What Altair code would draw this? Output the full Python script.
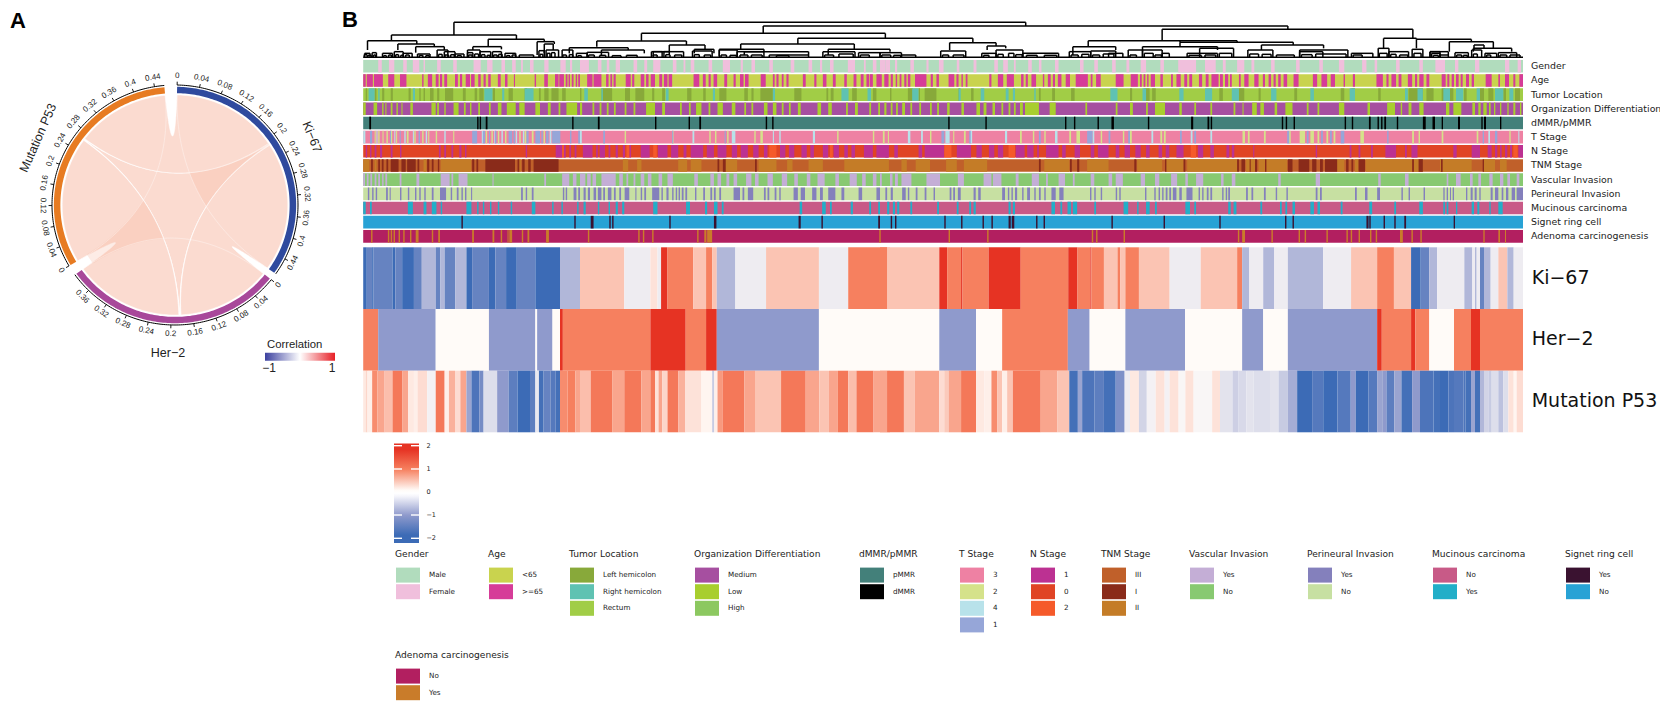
import math
import altair as alt
import pandas as pd

SANS = "Liberation Sans"
WIDE = "DejaVu Sans"

# sample windows along the heatmap's column axis: origin, read-off scale
WINDOWS = {"A": (330, 2.8), "B": (880, 2.8), "C": (1420, 3.0)}
def A(v): return WINDOWS["A"][0] + v / WINDOWS["A"][1]
def B(v): return WINDOWS["B"][0] + v / WINDOWS["B"][1]
def C(v): return WINDOWS["C"][0] + v / WINDOWS["C"][1]
CONV = {"A": A, "B": B, "C": C}

LEFT, RIGHT = 363.2, 1523.0

PALETTE = {
    "Gender|Male": "#b1dcbd", "Gender|Female": "#f0bfdc",
    "Age|<65": "#c9d34e", "Age|>=65": "#d63c98",
    "Tumor Location|Left hemicolon": "#88a93a", "Tumor Location|Right hemicolon": "#5fc2b2", "Tumor Location|Rectum": "#a1cd46",
    "Organization Differentiation|Medium": "#a64fa0", "Organization Differentiation|Low": "#a8ce2e", "Organization Differentiation|High": "#8cc860",
    "dMMR/pMMR|pMMR": "#43807a", "dMMR/pMMR|dMMR": "#000000",
    "T Stage|3": "#ee81a3", "T Stage|2": "#d5e28a", "T Stage|4": "#b8e2ea", "T Stage|1": "#96a6d8",
    "N Stage|1": "#bc3192", "N Stage|0": "#e04425", "N Stage|2": "#f55a2a",
    "TNM Stage|III": "#c0602a", "TNM Stage|I": "#8a2b1a", "TNM Stage|II": "#c47c27",
    "Vascular Invasion|Yes": "#c4aed6", "Vascular Invasion|No": "#88c971",
    "Perineural Invasion|Yes": "#8480bc", "Perineural Invasion|No": "#c7e0a2",
    "Mucinous carcinoma|No": "#c85a87", "Mucinous carcinoma|Yes": "#22aec8",
    "Signet ring cell|Yes": "#3a1230", "Signet ring cell|No": "#28a2d5",
    "Adenoma carcinogenesis|No": "#b21f60", "Adenoma carcinogenesis|Yes": "#c97c2a",
}

TRACK_ORDER = ["Gender", "Age", "Tumor Location", "Organization Differentiation", "dMMR/pMMR",
               "T Stage", "N Stage", "TNM Stage", "Vascular Invasion", "Perineural Invasion",
               "Mucinous carcinoma", "Signet ring cell", "Adenoma carcinogenesis"]
TRACK_BASE = ["Male", "<65", "Rectum", "Medium", "pMMR", "3", "0", "III", "No", "No", "No", "No", "No"]

# minority-class runs (start, end, start, end, ...) by track, category and window
gender_f_a = [135,145,165,180,205,215,232,250,262,266,300,310,345,355,402,422,440,455,480,490,510,520,535,540,560,570,600,612,645,660,672,678,700,725,750,760,775,782,800,812,850,860,880,888,905,925,960,970,990,995,1010,1020,1060,1070,1100,1120,1150,1156,1180,1190,1230,1240,1290,1300,1340,1350,1372,1378,1400,1410,1450,1470,1495,1500,1520,1530,1555,1568]
gender_f_b = [0,15,42,48,85,95,130,136,165,178,215,222,262,270,320,330,345,358,375,380,415,425,445,452,490,500,560,570,600,610,650,660,690,698,730,745,785,795,835,885,910,940,960,968,1000,1020,1040,1048,1095,1105,1165,1175,1230,1240,1285,1300,1350,1362,1385,1392,1445,1455,1510,1520,1555,1568]
gender_f_c = [60,75,105,115,165,178,255,268,293,303]

age_old_a = [93,100,103,120,123,148,163,180,196,214,258,262,274,286,296,304,308,314,320,328,350,358,364,370,380,392,395,405,415,422,430,436,443,450,470,478,490,497,515,518,573,577,600,610,630,640,642,655,660,665,668,672,677,682,688,692,695,700,720,735,738,760,773,780,785,790,794,800,828,842,846,852,870,880,885,892,898,910,922,930,935,945,948,958,1018,1034,1044,1052,1060,1066,1074,1084,1104,1112,1130,1136,1148,1158,1162,1172,1206,1220,1240,1245,1250,1256,1265,1270,1278,1284,1324,1332,1356,1362,1380,1390,1408,1416,1440,1447,1466,1474,1486,1494,1502,1510,1512,1520,1530,1540,1552,1560]
age_old_b = [0,5,18,24,30,36,44,48,55,60,68,74,78,85,98,130,142,148,158,165,192,208,214,220,228,232,240,245,306,312,330,345,355,375,395,402,408,414,424,437,456,460,470,478,484,490,498,508,520,532,548,582,590,595,605,618,660,682,702,722,728,733,738,743,748,752,758,770,785,792,815,820,830,842,852,860,866,874,893,902,912,920,928,948,952,960,966,975,980,985,1005,1010,1020,1032,1048,1060,1072,1078,1088,1095,1102,1108,1115,1122,1130,1140,1158,1172,1212,1224,1236,1252,1262,1274,1298,1302,1324,1330,1390,1408,1418,1424,1432,1445,1452,1460,1478,1490,1498,1504,1510,1522,1530,1538]
age_old_c = [65,77,82,88,95,102,108,116,122,128,138,147,155,162,197,215,235,240,255,267,280,286,298,309]

tumor_left_a = [100,104,125,130,146,152,170,176,220,226,250,254,262,266,280,290,300,306,322,345,372,380,405,412,418,430,455,462,500,512,545,552,585,590,600,612,620,640,650,660,700,704,760,790,826,840,855,880,902,908,930,938,1000,1012,1045,1052,1090,1110,1160,1170,1180,1186,1205,1240,1300,1320,1390,1395,1402,1410,1462,1475,1520,1530]
tumor_right_a = [108,125,135,139,232,238,432,455,482,488,545,570,712,722,760,764,940,948,1072,1078,1240,1246,1432,1452,1505,1515]
tumor_left_b = [28,32,78,92,108,112,125,158,220,224,255,262,445,450,482,490,535,545,700,706,740,755,762,772,950,960,1005,1020,1060,1066,1160,1168,1290,1300,1320,1330,1395,1402,1480,1520,1530,1550]
tumor_right_b = [90,108,220,226,282,292,352,360,372,378,432,436,645,665,735,745,838,850,910,930,985,1005,1095,1110,1205,1215,1315,1330,1470,1478,1505,1520]
tumor_left_c = [65,75,90,100,132,140,180,192,205,220,250,258,285,300]
tumor_right_c = [70,90,108,130,170,180,225,250,268,280]

org_low_a = [93,100,122,132,146,150,155,158,170,175,186,190,200,203,225,232,284,296,300,305,320,324,346,360,375,380,392,396,415,420,445,450,470,480,495,520,530,545,575,588,610,618,640,645,662,692,700,706,735,740,755,760,775,780,795,800,825,830,850,855,885,910,930,938,980,985,1005,1010,1025,1040,1060,1065,1085,1100,1125,1135,1160,1165,1180,1185,1215,1225,1240,1250,1265,1270,1285,1290,1310,1318,1365,1375,1395,1405,1445,1450,1470,1478,1510,1515,1535,1540]
org_low_b = [12,18,30,35,45,50,62,70,85,90,110,115,140,145,160,165,188,195,228,235,270,280,290,298,315,322,340,345,360,365,375,380,392,400,406,445,475,492,575,580,660,665,700,708,745,750,770,798,838,845,880,885,925,930,990,995,1015,1018,1042,1055,1065,1075,1105,1112,1135,1155,1195,1200,1225,1230,1285,1300,1365,1372,1420,1442,1458,1462,1480,1488,1510,1522]
org_low_c = [78,88,100,124,157,165,175,182,190,200,207,212,222,226,240,244,262,266,280,286,300,304]

dmmr_a = [110,115,412,416,419,423,436,441,678,682,750,755,910,914,1004,1008,1034,1039,1220,1224,1238,1242]
dmmr_b = [191,195,295,299,518,522,543,547,609,613,648,655,750,754,871,877,917,922,926,930,1125,1129,1136,1140,1158,1162,1301,1305,1321,1325,1369,1374,1393,1397,1403,1407,1412,1417,1447,1451,1520,1528,1547,1554]
dmmr_c = [65,69,114,120,184,188,192,198,240,244]

t2_a = [125,128,135,139,147,150,158,162,170,174,185,188,215,220,236,240,258,262,275,278,296,300,345,348,436,440,452,456,470,474,490,494,530,534,545,550,565,570,598,602,825,829,958,962,1062,1066,1078,1082,1112,1116,1188,1192,1205,1212,1420,1424,1520,1524]
t4_a = [93,99,130,133,180,183,208,212,232,235,268,272,320,324,425,430,460,464,480,484,520,524,540,544,580,585,615,620,700,705,1015,1020,1125,1135,1352,1358,1240,1243,1258,1262]
t1_a = [112,118,168,171,195,198,248,252,398,412,428,434,445,448,462,466,500,510,514,518,550,556,575,588,592,596,605,612,622,645,672,676,695,700,765,770,958,961,1105,1108]
t2_b = [8,13,22,25,140,144,205,208,235,240,392,397,428,432,460,464,530,535,550,560,618,622,680,684,700,705,785,790,795,800,1015,1022,1030,1035,1075,1080,1145,1150,1175,1190,1205,1215,1225,1230,1250,1255,1270,1275,1345,1355,1490,1495,1508,1512]
t4_b = [78,85,115,120,183,195,252,258,350,356,490,497,595,600,760,765,870,875,925,930]
t1_b = [172,180,250,254,445,450,580,595,640,645,695,700,840,845,880,885,1140,1146,1195,1200,1235,1240,1260,1265,1290,1300,1420,1424]
t2_c = [65,70,170,175,268,272]
t4_c = [205,210,295,298]
t1_c = [188,192,225,232]

n1_a = [100,104,112,116,125,130,140,146,170,175,196,200,305,310,320,325,340,345,362,368,378,382,548,552,632,650,655,660,670,675,685,690,708,735,745,750,755,770,780,785,800,806,820,826,838,843,870,895,918,945,955,975,990,998,1010,1045,1055,1075,1085,1110,1125,1140,1150,1170,1185,1200,1215,1225,1260,1275,1285,1300,1320,1335,1345,1355,1380,1395,1410,1425,1440,1450,1460,1470,1495,1520,1530,1540,1555,1562]
n2_a = [650,655,830,838,905,915,1230,1250,1400,1408]
n1_b = [0,25,40,50,108,118,125,180,215,255,270,285,305,320,330,345,380,405,412,430,440,445,465,500,510,520,545,560,590,600,610,640,660,670,685,700,715,730,745,755,780,790,800,810,830,850,890,905,925,935,970,978,985,992,1045,1048,1220,1224,1315,1320,1340,1345,1375,1380,1415,1445,1470,1475,1488,1505]
n2_b = [180,200,360,378,870,885]
n1_c = [100,110,155,180,203,215,225,232,240,245,255,262,270,276,295,309]
n2_c = [280,293]

tnm2_a = [93,110,125,130,262,270,310,395,530,534,820,835,860,872,975,1000,1010,1040,1105,1140,1200,1250,1280,1295,1340,1380,1440,1560]
tnm1_a = [115,120,135,140,145,150,158,163,170,192,200,212,216,240,245,250,272,278,285,290,302,306,398,404,410,415,435,518,525,530,538,545,555,562,570,640,1085,1090,1100,1108,1190,1195]
tnm2_b = [0,25,60,75,100,140,185,215,235,300,460,530,580,640,720,790,800,850,860,1000,1025,1050,1060,1140,1280,1300,1330,1340,1360,1520]
tnm1_b = [445,450,532,537,552,558,712,718,798,802,850,855,1000,1005,1012,1022,1035,1038,1050,1056,1078,1082,1142,1155,1172,1202,1210,1222,1232,1240,1246,1280,1305,1312,1320,1325,1340,1358,1490,1495,1508,1520]
tnm2_c = [60,155,190,225,240,260]
tnm1_c = [63,68,188,192]

vasc_a = [93,98,103,108,113,118,125,130,135,140,146,150,155,160,195,200,242,250,310,335,340,345,360,385,455,458,600,605,650,670,680,690,700,715,720,730,735,745,760,800,810,820,830,835,850,855,870,880,890,900,920,930,945,960,1020,1030,1065,1075,1085,1095,1110,1118,1130,1140,1165,1180,1190,1200,1225,1240,1265,1280,1300,1310,1335,1345,1365,1385,1415,1425,1455,1475,1490,1500,1520,1530]
vasc_b = [0,5,28,35,42,50,60,88,130,168,218,235,290,312,316,340,380,388,425,445,465,470,500,518,540,545,590,600,640,650,660,680,730,742,770,782,815,832,855,862,885,905,955,962,985,995,1115,1122,1220,1232,1395,1402,1470,1480]
vasc_c = [80,85,108,122,150,158,175,183,208,218,240,250,262,270,290,298]

peri_a = [106,110,118,122,128,132,157,162,167,170,196,200,218,222,238,242,250,254,264,268,285,290,308,325,338,342,355,360,368,372,378,382,395,398,535,540,548,552,565,570,652,656,660,664,682,690,695,700,710,716,722,728,738,745,750,760,765,770,778,788,795,800,810,815,825,838,855,858,870,874,880,885,902,922,928,932,942,948,958,962,968,972,976,980,985,990,995,1000,1022,1026,1045,1050,1065,1070,1075,1080,1090,1095,1130,1148,1155,1160,1170,1185,1215,1220,1225,1230,1245,1250,1258,1262,1298,1310,1318,1330,1350,1362,1372,1380,1395,1415,1432,1440,1480,1490,1530,1540]
peri_b = [15,20,30,36,62,72,78,82,100,105,125,130,150,154,195,200,205,210,218,226,262,268,275,282,342,350,358,362,368,372,378,384,398,402,412,420,432,436,445,450,460,464,480,492,502,514,588,592,600,604,618,622,660,664,670,674,742,746,768,772,780,784,790,794,800,805,810,815,820,830,838,845,858,875,892,896,902,906,915,920,925,930,958,962,968,972,975,980,1025,1030,1040,1045,1075,1080,1108,1112,1138,1142,1220,1225,1232,1237,1330,1335,1358,1365,1392,1400,1460,1464,1480,1484,1522,1526]
peri_c = [70,74,80,84,90,93,98,102,138,142,152,158,164,170,178,182,212,218,225,235,245,250,258,265,275,285,290,309]

muc_a = [93,100,112,117,218,232,262,270,285,298,310,314,382,396,412,416,428,432,448,452,470,474,506,510,565,575,622,626,648,652,692,696,710,716,750,754,780,784,800,806,818,824,905,917,997,1008,1050,1056,1075,1085,1097,1102,1315,1322,1378,1388,1400,1405,1458,1464,1510,1515,1535,1540]
muc_b = [20,26,36,42,48,54,85,90,160,165,215,220,250,255,262,268,360,366,372,378,480,490,505,510,525,535,540,552,600,605,682,695,720,724,745,755,770,775,855,868,880,885,975,982,990,998,1065,1070,1120,1125,1135,1140,1155,1162,1205,1215,1225,1232,1290,1295,1370,1378,1440,1445,1510,1520]
muc_c = [70,75,80,85,108,112,155,162,172,178,208,212,235,248]

signet_a = [368,372,684,688,730,738,782,786,790,794,950,954,1075,1082,1312,1318,1376,1380,1535,1540]
signet_b = [30,34,42,46,180,184,227,231,287,291,312,316,360,366,369,376,437,441,458,462,648,652,794,798,950,954,1134,1138,1155,1159,1362,1368,1370,1374,1410,1414,1440,1444,1468,1473]
signet_c = [101,105]

adeno_a = [115,119,162,166,170,174,178,182,192,196,205,209,224,228,240,248,285,289,303,308,398,403,455,460,478,482,497,500,502,510,537,541,553,558,605,613,722,726,863,867,876,880,902,906,1028,1032,1048,1054,1056,1070,1538,1542]
adeno_b = [192,196,300,304,593,597,605,609,682,686,1002,1006,1014,1022,1096,1100,1172,1176,1189,1193,1250,1254,1306,1310,1318,1322,1340,1344,1372,1376,1388,1392,1456,1464,1488,1492,1513,1517]
adeno_c = [190,194,235,240,255,258]

RUNS = [
    ("Gender", "Female", "A", gender_f_a), ("Gender", "Female", "B", gender_f_b), ("Gender", "Female", "C", gender_f_c),
    ("Age", ">=65", "A", age_old_a), ("Age", ">=65", "B", age_old_b), ("Age", ">=65", "C", age_old_c),
    ("Tumor Location", "Left hemicolon", "A", tumor_left_a), ("Tumor Location", "Right hemicolon", "A", tumor_right_a),
    ("Tumor Location", "Left hemicolon", "B", tumor_left_b), ("Tumor Location", "Right hemicolon", "B", tumor_right_b),
    ("Tumor Location", "Left hemicolon", "C", tumor_left_c), ("Tumor Location", "Right hemicolon", "C", tumor_right_c),
    ("Organization Differentiation", "Low", "A", org_low_a), ("Organization Differentiation", "Low", "B", org_low_b), ("Organization Differentiation", "Low", "C", org_low_c),
    ("dMMR/pMMR", "dMMR", "A", dmmr_a), ("dMMR/pMMR", "dMMR", "B", dmmr_b), ("dMMR/pMMR", "dMMR", "C", dmmr_c),
    ("T Stage", "2", "A", t2_a), ("T Stage", "4", "A", t4_a), ("T Stage", "1", "A", t1_a),
    ("T Stage", "2", "B", t2_b), ("T Stage", "4", "B", t4_b), ("T Stage", "1", "B", t1_b),
    ("T Stage", "2", "C", t2_c), ("T Stage", "4", "C", t4_c), ("T Stage", "1", "C", t1_c),
    ("N Stage", "1", "A", n1_a), ("N Stage", "2", "A", n2_a), ("N Stage", "1", "B", n1_b), ("N Stage", "2", "B", n2_b), ("N Stage", "1", "C", n1_c), ("N Stage", "2", "C", n2_c),
    ("TNM Stage", "II", "A", tnm2_a), ("TNM Stage", "I", "A", tnm1_a), ("TNM Stage", "II", "B", tnm2_b), ("TNM Stage", "I", "B", tnm1_b), ("TNM Stage", "II", "C", tnm2_c), ("TNM Stage", "I", "C", tnm1_c),
    ("Vascular Invasion", "Yes", "A", vasc_a), ("Vascular Invasion", "Yes", "B", vasc_b), ("Vascular Invasion", "Yes", "C", vasc_c),
    ("Perineural Invasion", "Yes", "A", peri_a), ("Perineural Invasion", "Yes", "B", peri_b), ("Perineural Invasion", "Yes", "C", peri_c),
    ("Mucinous carcinoma", "Yes", "A", muc_a), ("Mucinous carcinoma", "Yes", "B", muc_b), ("Mucinous carcinoma", "Yes", "C", muc_c),
    ("Signet ring cell", "Yes", "A", signet_a), ("Signet ring cell", "Yes", "B", signet_b), ("Signet ring cell", "Yes", "C", signet_c),
    ("Adenoma carcinogenesis", "Yes", "A", adeno_a), ("Adenoma carcinogenesis", "Yes", "B", adeno_b), ("Adenoma carcinogenesis", "Yes", "C", adeno_c),
]

# heatmap: boundaries, then the z-score between each pair of boundaries
ki_edges_a = [93,103,118,122,175,183,202,235,257,296,309,321,351,382,398,445,463,493,523,575,644,700,824,897,917,927,945,1017,1053,1070,1083,1135,1221,1369,1451,1560,1568]
ki_z_a = [-2,-1.5,-2,-1.5,-2,-1.5,-2,-1.5,-.7,-1.5,-.7,-1.5,-.7,-2,-1.5,-2,-1.5,-2,-1.5,-2,-.7,.45,-.15,.2,-.15,2,1,.45,1,.45,-.7,-.15,.45,-.15,1,.45]
ki_edges_b = [0,20,166,188,227,231,304,394,527,553,589,592,627,665,673,687,725,811,898,1000,1014,1034,1073,1104,1142,1241,1319,1392,1439,1487,1514,1538,1560,1568]
ki_z_b = [1,.45,2,1,2,1,2,1,2,1,2,1,.45,1,.45,1,.45,-.15,.45,1,-.7,-.15,-.7,-.15,-.7,-.15,.45,1,.45,-2,-1.5,-.7,-.15]
ki_edges_c = [60,133,157,165,170,180,192,212,235,262,281,309]
ki_z_c = [-.15,-.7,-.15,-.7,-.15,-1.5,-.7,-.15,.45,-.7,-.15]

her_edges_a = [93,135,296,445,575,580,623,644,652,897,996,1053,1083,1369,1568]
her_z_a = [1,-1,0,-1,0,-1,0,2,1,2,1,2,-1,0]
her_edges_b = [0,166,269,342,526,587,687,854,1014,1073,1142,1392,1405,1487,1499,1538,1568]
her_z_b = [0,-1,0,1,-1,0,-1,0,-1,0,-1,2,1,2,1,0]
her_edges_c = [60,102,153,180,309]
her_z_c = [0,1,2,1]

p53_edges_a = [93,100,105,118,133,153,175,203,219,235,245,272,296,321,333,350,365,382,396,418,430,468,500,525,560,575,585,598,618,632,644,665,687,700,730,790,824,872,897,910,920,930,945,975,995,1040,1070,1076,1085,1100,1160,1190,1263,1332,1370,1397,1422,1451,1474,1522,1568]
p53_z_a = [.15,.3,.1,.9,.7,.5,1.1,.7,.15,.1,.25,-.1,1.1,.1,.6,.25,.7,-.9,-1.8,-1.3,-.3,-1,-1.6,-2,-1.6,-.2,-1.9,-1.5,-1.7,-1.9,.9,1,.7,.5,1.1,.7,1.1,.7,1.1,.2,.7,.3,1.1,.6,.2,.05,-.5,.1,.8,1.1,.7,.45,1.1,.7,.45,.7,1.1,.5,1.1,.7]
p53_edges_b = [0,20,67,97,166,180,192,227,269,292,312,328,342,356,372,450,497,530,554,566,600,627,660,685,700,725,747,772,797,811,836,855,878,930,952,987,1004,1026,1046,1092,1116,1142,1168,1210,1241,1281,1318,1332,1368,1392,1408,1418,1440,1460,1490,1512,1550,1568]
p53_z_b = [.7,1.1,.45,.7,.25,.4,.7,1.1,.15,.1,.9,.45,.1,.45,1.1,.7,.45,-1.9,-.9,-1.8,-1.6,-1.9,-1.2,-.15,.15,-.4,-.1,.2,-.1,.2,-.05,.2,-.05,.2,-.25,-.45,-.35,-.25,-.3,-.25,-.5,-.8,-2,-1.7,-2,-1.7,-1,-2,-1.7,-.9,-1,-1.6,-.9,-1.9,-1,-1.8,-1.9]
p53_edges_c = [60,85,102,130,137,153,165,180,192,205,215,235,250,265,281,290,309]
p53_z_c = [-2,-1.8,-1.7,-1.8,-1.9,-.9,-1.9,-.7,-.4,-.5,-.3,-.6,-.3,.2,.05,.25]

HEAT_ROWS = [("Ki−67", 247.3, 309.0, [("A", ki_edges_a, ki_z_a), ("B", ki_edges_b, ki_z_b), ("C", ki_edges_c, ki_z_c)]),
             ("Her−2", 309.0, 370.7, [("A", her_edges_a, her_z_a), ("B", her_edges_b, her_z_b), ("C", her_edges_c, her_z_c)]),
             ("Mutation P53", 370.7, 432.3, [("A", p53_edges_a, p53_z_a), ("B", p53_edges_b, p53_z_b), ("C", p53_edges_c, p53_z_c)])]
HEAT_DOMAIN = [-2, -1, 0, 1, 2]
HEAT_RANGE = ["#3c6bb6", "#8f9acc", "#fffbf8", "#f6805f", "#e63323"]

# dendrogram clades: left, right, height, left child height, right child height
DENDRO = [
    (A(347), B(408), 67, 105, 78), (A(172), A(522), 105, 122, 118), (A(105), A(243), 122, 150, 132),
    (A(190), A(292), 132, 150, 140), (A(240), A(320), 140, 158, 150), (A(443), A(600), 118, 140, 125),
    (A(400), A(480), 140, 150, 148), (A(580), A(628), 125, 165, 132), (A(600), A(625), 132, 160, 150),
    (A(1213), B(1142), 78, 100, 88), (A(872), B(15), 100, 123, 115), (A(747), A(998), 123, 140, 135),
    (A(670), A(835), 143, 160, 150), (A(760), A(880), 150, 165, 160), (A(950), A(1050), 135, 155, 148),
    (A(905), A(950), 155, 168, 162), (A(1020), A(1075), 148, 160, 160), (A(1310), B(260), 115, 132, 128),
    (A(1150), A(1468), 132, 148, 148), (A(1090), A(1215), 148, 168, 155), (A(1160), A(1340), 155, 165, 165),
    (A(1395), A(1568), 148, 165, 155), (B(790), B(1492), 88, 122, 115), (B(583), B(840), 122, 140, 122),
    (B(540), B(660), 140, 165, 150), (B(840), B(1000), 122, 127, 127), (B(735), B(945), 140, 150, 150),
    (B(840), B(1157), 127, 140, 135), (B(1068), B(1242), 135, 150, 145), (B(1410), B(1502), 115, 145, 118),
    (B(195), B(325), 128, 150, 138), (B(300), B(352), 138, 150, 145), (B(1502), C(154), 118, 145, 125),
    (C(88), C(220), 125, 155, 145), (C(162), C(192), 135, 150, 145), (C(160), C(275), 145, 155, 155),
    (C(30), C(85), 155, 170, 165),
]
LEAF_CLADES = [
    ("A", 97, 112, 160), ("A", 118, 130, 158), ("A", 147, 175, 160), ("A", 180, 205, 155), ("A", 205, 230, 160),
    ("A", 245, 280, 162), ("A", 300, 330, 150), ("A", 320, 350, 155), ("A", 350, 375, 162), ("A", 385, 420, 150),
    ("A", 385, 400, 158), ("A", 420, 450, 155), ("A", 455, 480, 155), ("A", 490, 520, 160), ("A", 530, 570, 165),
    ("A", 585, 600, 152), ("A", 605, 640, 150), ("A", 650, 680, 150), ("A", 690, 720, 160), ("A", 720, 780, 157),
    ("A", 900, 930, 155), ("A", 935, 990, 155), ("A", 1015, 1070, 153), ("A", 1090, 1140, 150), ("A", 1140, 1215, 155),
    ("A", 1230, 1340, 165), ("A", 1380, 1470, 155), ("A", 1480, 1540, 158),
    ("B", 0, 60, 158), ("B", 60, 100, 165), ("B", 170, 240, 153), ("B", 285, 325, 160), ("B", 325, 400, 150),
    ("B", 400, 500, 160), ("B", 530, 590, 155), ("B", 590, 660, 153), ("B", 640, 680, 160), ("B", 695, 735, 150),
    ("B", 735, 790, 150), ("B", 790, 810, 160), ("B", 860, 945, 160), ("B", 895, 990, 145), ("B", 1030, 1100, 150),
    ("B", 1175, 1310, 150), ("B", 1175, 1240, 155), ("B", 1320, 1380, 160), ("B", 1395, 1425, 145), ("B", 1425, 1480, 155),
    ("B", 1490, 1520, 148), ("B", 1540, 1568, 155),
    ("C", 35, 60, 160), ("C", 60, 85, 165), ("C", 105, 145, 158), ("C", 155, 185, 150), ("C", 195, 230, 160),
    ("C", 235, 290, 158), ("C", 270, 300, 165),
    # finest clades just above the leaves
    ("A", 96, 104, 164), ("A", 106, 116, 166), ("A", 122, 128, 165), ("A", 150, 158, 167), ("A", 164, 172, 165),
    ("A", 184, 192, 164), ("A", 198, 206, 166), ("A", 212, 222, 165), ("A", 250, 260, 166), ("A", 268, 278, 167),
    ("A", 304, 314, 163), ("A", 322, 332, 165), ("A", 338, 348, 164), ("A", 356, 368, 167), ("A", 388, 398, 165),
    ("A", 405, 416, 162), ("A", 424, 434, 164), ("A", 440, 448, 166), ("A", 458, 468, 165), ("A", 472, 482, 163),
    ("A", 494, 504, 167), ("A", 510, 520, 165), ("A", 588, 596, 163), ("A", 608, 616, 160), ("A", 620, 630, 158),
    ("A", 652, 662, 165), ("A", 670, 680, 164), ("A", 694, 704, 167), ("A", 724, 740, 165), ("A", 755, 772, 166),
    ("A", 790, 815, 167), ("A", 830, 860, 166), ("A", 905, 916, 165), ("A", 940, 952, 164), ("A", 965, 985, 165),
    ("A", 1020, 1034, 164), ("A", 1048, 1066, 165), ("A", 1095, 1110, 165), ("A", 1120, 1138, 166), ("A", 1148, 1170, 165),
    ("A", 1180, 1210, 165), ("A", 1250, 1285, 167), ("A", 1385, 1410, 165), ("A", 1425, 1465, 162), ("A", 1485, 1510, 165),
    ("B", 5, 30, 165), ("B", 38, 58, 166), ("B", 175, 192, 165), ("B", 205, 235, 165), ("B", 290, 305, 166),
    ("B", 330, 345, 163), ("B", 360, 375, 160), ("B", 380, 398, 164), ("B", 410, 440, 166), ("B", 460, 495, 166),
    ("B", 535, 555, 165), ("B", 565, 585, 163), ("B", 595, 615, 165), ("B", 625, 655, 162), ("B", 700, 718, 165),
    ("B", 740, 765, 160), ("B", 770, 788, 165), ("B", 865, 900, 166), ("B", 910, 940, 165), ("B", 950, 985, 160),
    ("B", 1035, 1060, 162), ("B", 1070, 1095, 163), ("B", 1110, 1160, 165), ("B", 1180, 1210, 164), ("B", 1220, 1305, 162),
    ("B", 1325, 1350, 165), ("B", 1398, 1420, 160), ("B", 1430, 1445, 163), ("B", 1455, 1478, 165), ("B", 1495, 1515, 160),
    ("C", 40, 55, 166), ("C", 110, 125, 165), ("C", 130, 142, 166), ("C", 160, 172, 162), ("C", 200, 212, 165), ("C", 240, 260, 165),
]
DENDRO_BASE = 172

# circular correlation plot
CX, CY, RX, RY = 175.0, 205.0, 123.0, 120.0
SECTORS = [("Ki−67", 1.0, 125.0, 263.0, 12, "#2f4a9e"),
           ("Her−2", 128.5, 234.5, 267.0, 10, "#a8489a"),
           ("Mutation P53", 239.5, 355.0, 252.0, 12, "#e77b22")]
TICK_STEP = 0.04
RIBBONS = [(1.0, 56.0, 307.0, 355.0), (57.0, 125.0, 128.5, 177.0), (178.0, 234.5, 239.5, 306.0)]
# links that run behind the ribbons: they cross the centre
CENTRE_CURVES = [(56.5, 177.5), (177.5, 306.5), (306.5, 56.5)]
THIN_LINKS = [(1.0, 125.0), (128.5, 234.5), (239.5, 355.0), (306.0, 178.0), (57.0, 177.0)]
CIRCLE_NAMES = [("Ki−67", 312, 137, 68), ("Mutation P53", 38, 138, -66), ("Her−2", 168, 353, 0)]

LEGENDS = [
    ("Gender", 395, 554, ["Male", "Female"]), ("Age", 488, 554, ["<65", ">=65"]),
    ("Tumor Location", 569, 554, ["Left hemicolon", "Right hemicolon", "Rectum"]),
    ("Organization Differentiation", 694, 554, ["Medium", "Low", "High"]),
    ("dMMR/pMMR", 859, 554, ["pMMR", "dMMR"]), ("T Stage", 959, 554, ["3", "2", "4", "1"]),
    ("N Stage", 1030, 554, ["1", "0", "2"]), ("TNM Stage", 1101, 554, ["III", "I", "II"]),
    ("Vascular Invasion", 1189, 554, ["Yes", "No"]), ("Perineural Invasion", 1307, 554, ["Yes", "No"]),
    ("Mucinous carcinoma", 1432, 554, ["No", "Yes"]), ("Signet ring cell", 1565, 554, ["Yes", "No"]),
    ("Adenoma carcinogenesis", 395, 655, ["No", "Yes"]),
]
HEAT_TICKS = [2, 1, 0, -1, -2]
HEAT_STOPS = [(0.0, "#e63323"), (0.06, "#e63323"), (0.26, "#f6805f"), (0.47, "#fffbf8"), (0.5, "#ffffff"), (0.53, "#f5f5fb"), (0.72, "#8f9acc"), (0.92, "#3c6bb6"), (1.0, "#3c6bb6")]
CORR_STOPS = [(0.0, "#3b409f"), (0.5, "#ffffff"), (1.0, "#e71f26")]

# ------------- scales
X_DOM, Y_DOM = [8, 1660], [8, 703]
def xs(field="x"): return alt.X(f"{field}:Q", scale=alt.Scale(domain=X_DOM, nice=False, zero=False), axis=None)
def ys(field="y"): return alt.Y(f"{field}:Q", scale=alt.Scale(domain=Y_DOM, reverse=True, nice=False, zero=False), axis=None)

layers = []

# ------------- annotation tracks
TOP0, PITCH, TRACK_H = 60.0, 14.17, 12.6
track_rows = []
for i, (name, base) in enumerate(zip(TRACK_ORDER, TRACK_BASE)):
    y0 = TOP0 + i * PITCH
    track_rows.append(dict(x=LEFT, x2=RIGHT, y=y0, y2=y0 + TRACK_H, key=f"{name}|{base}", o=0))
for name, cat, win, vals in RUNS:
    i = TRACK_ORDER.index(name)
    y0 = TOP0 + i * PITCH
    f = CONV[win]
    for s, e in zip(vals[::2], vals[1::2]):
        track_rows.append(dict(x=max(LEFT, f(s)), x2=min(RIGHT, f(e)), y=y0, y2=y0 + TRACK_H, key=f"{name}|{cat}", o=1))
leg_rows = []
legend_text = []
for title, lx, ly, cats in LEGENDS:
    legend_text.append(dict(x=lx, y=ly, t=title))
    for j, c in enumerate(cats):
        top = ly + 13.6 + j * 16.6
        leg_rows.append(dict(x=lx + 1, x2=lx + 25, y=top, y2=top + 15, key=f"{title}|{c}", o=2))
        legend_text.append(dict(x=lx + 34, y=top + 7.5, t=c, small=1))
keys = list(PALETTE)
color_cat = alt.Color("key:N", scale=alt.Scale(domain=keys, range=[PALETTE[k] for k in keys]), legend=None)
layers.append(alt.Chart(pd.DataFrame(track_rows + leg_rows)).mark_rect(strokeWidth=0).encode(
    x=xs(), x2="x2:Q", y=ys(), y2="y2:Q", color=color_cat, order=alt.Order("o:Q")))

# ------------- heatmap
heat_rows = []
for _, top, bot, parts in HEAT_ROWS:
    for win, edges, z in parts:
        f = CONV[win]
        for k, v in enumerate(z):
            heat_rows.append(dict(x=f(edges[k]), x2=min(RIGHT, f(edges[k + 1])), y=top, y2=bot, z=v))
layers.append(alt.Chart(pd.DataFrame(heat_rows)).mark_rect(strokeWidth=0).encode(
    x=xs(), x2="x2:Q", y=ys(), y2="y2:Q",
    color=alt.Color("z:Q", scale=alt.Scale(domain=HEAT_DOMAIN, range=HEAT_RANGE, clamp=True, interpolate="rgb"), legend=None)))

# ------------- dendrogram
den = []
for l, r, h, hl, hr in DENDRO:
    den += [dict(x=l, x2=r, y=h / 3, y2=h / 3), dict(x=l, x2=l, y=h / 3, y2=hl / 3), dict(x=r, x2=r, y=h / 3, y2=hr / 3)]
for win, a, b, h in LEAF_CLADES:
    l, r = CONV[win](a), CONV[win](b)
    den += [dict(x=l, x2=r, y=h / 3, y2=h / 3), dict(x=l, x2=l, y=h / 3, y2=DENDRO_BASE / 3), dict(x=r, x2=r, y=h / 3, y2=DENDRO_BASE / 3)]
den.append(dict(x=LEFT, x2=RIGHT, y=DENDRO_BASE / 3, y2=DENDRO_BASE / 3))
layers.append(alt.Chart(pd.DataFrame(den)).mark_rule(color="#000000", strokeWidth=1.5).encode(
    x=xs(), x2="x2:Q", y=ys(), y2="y2:Q"))

# ------------- circular plot
def polar(theta, frac):
    a = math.radians(theta)
    return CX + RX * frac * math.sin(a), CY - RY * frac * math.cos(a)

def arc_pts(t0, t1, frac):
    n = max(2, int(abs(t1 - t0)) + 1)
    return [polar(t0 + (t1 - t0) * k / (n - 1), frac) for k in range(n)]

def bez(t0, t1, frac):
    p0, p2 = polar(t0, frac), polar(t1, frac)
    delta = abs(t1 - t0)
    delta = min(delta, 360 - delta)
    c = 0.26 * max(0.0, 1 - delta / 60)
    mid = math.radians((t0 + t1) / 2 + (180 if abs(t1 - t0) > 180 else 0))
    p1 = (CX + RX * c * math.sin(mid), CY - RY * c * math.cos(mid))
    pts = []
    for k in range(0, 61):
        u = k / 60
        pts.append(((1 - u) ** 2 * p0[0] + 2 * u * (1 - u) * p1[0] + u * u * p2[0],
                    (1 - u) ** 2 * p0[1] + 2 * u * (1 - u) * p1[1] + u * u * p2[1]))
    return pts

def crossing(p, q):
    best, bi, bj = 1e9, 0, 0
    for i, a in enumerate(p):
        for j, b in enumerate(q):
            d = (a[0] - b[0]) ** 2 + (a[1] - b[1]) ** 2
            if d < best:
                best, bi, bj = d, i, j
    return bi, bj

def piece(p, i, j):
    return p[i:j + 1] if i <= j else p[j:i + 1][::-1]

def poly_rows(pts, k):
    closed = pts + [pts[0]]
    return [dict(x=p[0], y=p[1], k=k, i=i) for i, p in enumerate(closed)]

FR = 0.917
centre = []
for t0, t1 in CENTRE_CURVES:
    centre += bez(t0, t1, FR)
layers.append(alt.Chart(pd.DataFrame(poly_rows(centre, 0))).mark_line(fill="#f9c3b0", fillOpacity=0.6, strokeWidth=0).encode(
    x=xs(), y=ys(), detail="k:N", order=alt.Order("i:Q")))

rib = []
for n, (a1, a2, b1, b2) in enumerate(RIBBONS):
    pts = arc_pts(a1, a2, FR) + bez(a2, b1, FR) + arc_pts(b1, b2, FR) + bez(b2, a1, FR)
    rib += poly_rows(pts, n)
layers.append(alt.Chart(pd.DataFrame(rib)).mark_line(fill="#f9c3b0", fillOpacity=0.6, stroke="#ffffff", strokeWidth=0.8, strokeOpacity=0.6).encode(
    x=xs(), y=ys(), detail="k:N", order=alt.Order("i:Q")))

# darker wedges where links overlap
b1, b2, b3 = bez(1, 125, FR), bez(56, 307, FR), bez(57, 177, FR)
b4, b5, b6 = bez(306, 178, FR), bez(130, 234, FR), bez(240, 355, FR)
i21, i12 = crossing(b2, b1)
i31, i13 = crossing(b3, b1)
wedge_r = piece(b2, 0, i21) + piece(b1, i12, i13) + piece(b3, i31, 0)
i45, i54 = crossing(b4, b5)
i56, i65 = crossing(b5, b6)
i64, i46 = crossing(b6, b4)
wedge_l = piece(b5, i54, i56) + piece(b6, i65, i64) + piece(b4, i46, i45)
wedges = poly_rows(wedge_r, "r") + poly_rows(wedge_l, "l")
layers.append(alt.Chart(pd.DataFrame(wedges)).mark_line(fill="#f6a88e", fillOpacity=0.22, strokeWidth=0).encode(
    x=xs(), y=ys(), detail="k:N", order=alt.Order("i:Q")))

thin = []
for n, (t0, t1) in enumerate(THIN_LINKS):
    thin += [dict(x=p[0], y=p[1], k=n, i=i) for i, p in enumerate(bez(t0, t1, FR))]
layers.append(alt.Chart(pd.DataFrame(thin)).mark_line(color="#ffffff", strokeWidth=0.9, opacity=0.4).encode(
    x=xs(), y=ys(), detail="k:N", order=alt.Order("i:Q")))

ring, outline, ticks, tick_text = [], [], [], []
ring_colors = {}
for n, (name, t0, t1, rate, nt, col) in enumerate(SECTORS):
    pts = arc_pts(t0, t1, 0.985) + arc_pts(t1, t0, 0.932)
    pts.append(pts[0])
    ring += [dict(x=p[0], y=p[1], k=name, i=i) for i, p in enumerate(pts)]
    ring_colors[name] = col
    outline += [dict(x=p[0], y=p[1], k=name, i=i) for i, p in enumerate(arc_pts(t0, t1, 1.0))]
    for j in range(nt):
        v = j * TICK_STEP
        th = t0 + v * rate
        p0, p1, pt = polar(th, 1.0), polar(th, 1.028), polar(th, 1.075)
        ticks.append(dict(x=p0[0], x2=p1[0], y=p0[1], y2=p1[1]))
        rot = th if (th < 90 or th > 270) else th - 180
        if th > 270:
            rot = th - 360
        tick_text.append(dict(x=pt[0], y=pt[1], t=("0" if j == 0 else f"{v:.2f}".rstrip("0")), a=rot))
layers.append(alt.Chart(pd.DataFrame(ring)).mark_line(strokeWidth=0).encode(
    x=xs(), y=ys(), detail="k:N", order=alt.Order("i:Q"),
    fill=alt.Fill("k:N", scale=alt.Scale(domain=list(ring_colors), range=list(ring_colors.values())), legend=None)))
layers.append(alt.Chart(pd.DataFrame(outline)).mark_line(color="#000000", strokeWidth=1).encode(
    x=xs(), y=ys(), detail="k:N", order=alt.Order("i:Q")))
layers.append(alt.Chart(pd.DataFrame(ticks)).mark_rule(color="#000000", strokeWidth=0.9).encode(
    x=xs(), x2="x2:Q", y=ys(), y2="y2:Q"))

def text_layer(rows, size, font=SANS, weight="normal", align="center", color="#222222"):
    return alt.Chart(pd.DataFrame(rows)).mark_text(font=font, fontSize=size, fontWeight=weight, align=align, baseline="middle", color=color).encode(
        x=xs(), y=ys(), text="t:N", angle=alt.Angle("a:Q", scale=None))

layers.append(text_layer(tick_text, 8))
layers.append(text_layer([dict(x=x, y=y, t=t, a=a) for t, x, y, a in CIRCLE_NAMES], 12.5))

# correlation key
corr_grad = alt.Gradient(gradient="linear", x1=0, x2=1, y1=0, y2=0, stops=[alt.GradientStop(offset=o, color=c) for o, c in CORR_STOPS])
layers.append(alt.Chart(pd.DataFrame([dict(x=265, x2=335, y=352.7, y2=360.7)])).mark_rect(color=corr_grad).encode(
    x=xs(), x2="x2:Q", y=ys(), y2="y2:Q"))
layers.append(text_layer([dict(x=267, y=345, t="Correlation", a=0)], 11.3, align="left"))
layers.append(text_layer([dict(x=269, y=368, t="−1", a=0), dict(x=332, y=368, t="1", a=0)], 12))

# heat key
heat_grad = alt.Gradient(gradient="linear", x1=0, x2=0, y1=0, y2=1, stops=[alt.GradientStop(offset=o, color=c) for o, c in HEAT_STOPS])
layers.append(alt.Chart(pd.DataFrame([dict(x=394, x2=419, y=443.5, y2=543)])).mark_rect(color=heat_grad).encode(
    x=xs(), x2="x2:Q", y=ys(), y2="y2:Q"))
tick_y = {2: 445.7, 1: 469.0, 0: 492.0, -1: 515.0, -2: 538.3}
dash = []
for t in HEAT_TICKS:
    if t != 0:
        dash += [dict(x=394, x2=402, y=tick_y[t], y2=tick_y[t]), dict(x=411, x2=419, y=tick_y[t], y2=tick_y[t])]
layers.append(alt.Chart(pd.DataFrame(dash)).mark_rule(color="#ffffff", strokeWidth=1.4).encode(
    x=xs(), x2="x2:Q", y=ys(), y2="y2:Q"))
layers.append(text_layer([dict(x=426.4, y=tick_y[t], t=str(t).replace("-", "−"), a=0) for t in HEAT_TICKS], 6.5, font=WIDE, align="left"))

# legends and side labels
layers.append(text_layer([dict(x=r["x"], y=r["y"], t=r["t"], a=0) for r in legend_text if "small" not in r], 9.1, font=WIDE, align="left"))
layers.append(text_layer([dict(x=r["x"], y=r["y"], t=r["t"], a=0) for r in legend_text if "small" in r], 7.2, font=WIDE, align="left"))
layers.append(text_layer([dict(x=1531, y=TOP0 + i * PITCH + TRACK_H / 2, t=n, a=0) for i, n in enumerate(TRACK_ORDER)], 9.4, font=WIDE, align="left"))
layers.append(text_layer([dict(x=1531.7, y=(top + bot) / 2 - 0.5, t=n, a=0) for n, top, bot, _ in HEAT_ROWS], 19, font=WIDE, align="left", color="#111111"))
layers.append(text_layer([dict(x=10, y=21, t="A", a=0), dict(x=342, y=20, t="B", a=0)], 22, weight="bold", align="left", color="#000000"))

chart = alt.layer(*layers).resolve_scale(color="independent", fill="independent").properties(
    width=1652, height=695, padding=0, autosize=alt.AutoSizeParams(type="none")
).configure_view(stroke=None)

chart.save("out.html", embed_options={"renderer": "svg", "actions": False})
